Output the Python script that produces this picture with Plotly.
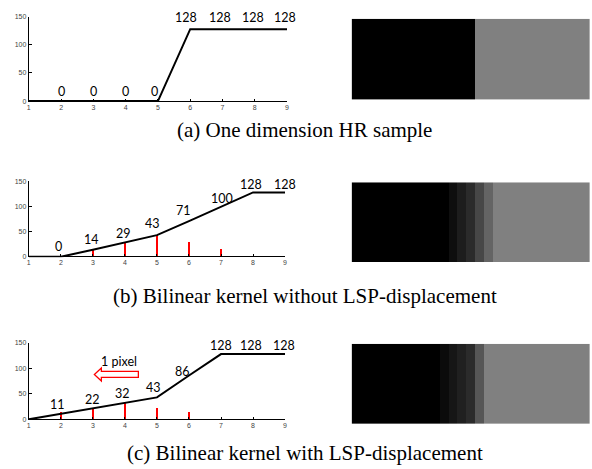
import plotly.graph_objects as go

W, H = 592, 469

# ---- data ----
x_pos = [1, 2, 3, 4, 5, 6, 7, 8, 9]

a_vals = [0, 0, 0, 0, 0, 128, 128, 128, 128]
a_text = ["", "0", "0", "0", "0", "128", "128", "128", "128"]

b_vals = [0, 0, 14, 29, 43, 71, 100, 128, 128]
b_text = ["", "0", "14", "29", "43", "71", "100", "128", "128"]
b_stem_x = [3, 4, 5, 6, 7]
b_stem_h = [14, 28, 43, 28, 14]

c_vals = [0, 11, 22, 32, 43, 86, 128, 128, 128]
c_text = ["", "11", "22", "32", "43", "86", "128", "128", "128"]
c_stem_x = [2, 3, 4, 5, 6]
c_stem_h = [14, 23, 32, 23, 14]

img_a = [0] * 14 + [128] * 13
img_b = [0] * 11 + [14, 29, 43, 71, 100] + [128] * 11
img_c = [0] * 10 + [11, 22, 32, 43, 86] + [128] * 12

captions = ["(a) One dimension HR sample",
            "(b) Bilinear kernel without LSP-displacement",
            "(c) Bilinear kernel with LSP-displacement"]

y_ticks = [0, 50, 100, 150]

# ---- label offsets (pixel shifts, style only) ----
a_shift = [(0, 0), (0, 10), (0, 10), (0, 10), (-3, 10), (-4, 12), (-2, 12), (-2, 12), (-2, 12)]
b_shift = [(0, 0), (-2, 10), (-1, 10), (-1, 9), (-4, 12), (-5, 11), (1, 8), (-2, 8), (0, 8)]
c_shift = [(0, 0), (-3, 9), (0, 9), (-2, 9), (-3, 10), (-6, 4), (0, 9), (-2, 9), (-1, 9)]

# ---- layout helpers (pixel boxes -> paper) ----
def px(v):
    return v / W

def py(v):
    return 1 - v / H

plot_boxes = [  # (left, right, top, bottom) in px
    (27, 287, 13, 99),
    (27, 285, 180, 257),
    (27, 285, 344, 422),
]
img_boxes = [
    (352, 592, 15, 97),
    (352, 592, 181, 262),
    (352, 592, 345, 426),
]
caption_y = [128, 296, 456]

LABEL_FONT = dict(family="Lato, Noto Sans, sans-serif", size=12.5, color="black")
TICK_FONT = dict(family="Liberation Sans, Arial, sans-serif", size=7, color="#444")

fig = go.Figure()

series = [(a_vals, a_text, None, None, a_shift),
          (b_vals, b_text, b_stem_x, b_stem_h, b_shift),
          (c_vals, c_text, c_stem_x, c_stem_h, c_shift)]

for i, (vals, txt, sx, sh, shifts) in enumerate(series):
    n = i + 1
    xa = "x" if n == 1 else f"x{n}"
    ya = "y" if n == 1 else f"y{n}"
    if sx is not None:
        fig.add_trace(go.Bar(x=sx, y=sh, width=0.06, marker=dict(color="red", line=dict(width=0)),
                             xaxis=xa, yaxis=ya, showlegend=False, hoverinfo="skip"))
    fig.add_trace(go.Scatter(x=x_pos, y=vals, mode="lines",
                             line=dict(color="black", width=2), cliponaxis=False,
                             xaxis=xa, yaxis=ya, showlegend=False, hoverinfo="skip"))
    for xv, yv, t, (dx, dy) in zip(x_pos, vals, txt, shifts):
        if t:
            fig.add_annotation(x=xv, y=yv, text=t, xref=xa, yref=ya, showarrow=False,
                               xanchor="center", yanchor="middle", xshift=dx, yshift=dy,
                               font=LABEL_FONT)
    l, r, t, b = plot_boxes[i]
    tick_common = dict(ticks="inside", ticklen=3, tickcolor="black", tickwidth=1,
                       tickfont=TICK_FONT, showgrid=False, fixedrange=True)
    fig.update_layout(**{
        ("xaxis" if n == 1 else f"xaxis{n}"): dict(domain=[px(l), px(r)], range=[1, 9],
                                                     tickvals=x_pos, anchor=ya, showline=False,
                                                     zeroline=False, **tick_common),
        ("yaxis" if n == 1 else f"yaxis{n}"): dict(domain=[py(b), py(t)], range=[-0.8, 150],
                                                     tickvals=y_ticks, anchor=xa, showline=True,
                                                     linecolor="black", linewidth=1,
                                                     zeroline=True, zerolinecolor="black",
                                                     zerolinewidth=1, **tick_common),
    })

# images
for j, img in enumerate([img_a, img_b, img_c]):
    n = j + 4
    xa, ya = f"x{n}", f"y{n}"
    fig.add_trace(go.Heatmap(z=[img], colorscale=[[0, "black"], [1, "white"]], zmin=0, zmax=255,
                             showscale=False, xaxis=xa, yaxis=ya, hoverinfo="skip"))
    l, r, t, b = img_boxes[j]
    fig.update_layout(**{
        f"xaxis{n}": dict(domain=[px(l), px(r)], range=[-0.5, 26.5], visible=False, anchor=ya,
                          fixedrange=True),
        f"yaxis{n}": dict(domain=[py(b), py(t)], range=[-0.5, 0.5], visible=False, anchor=xa,
                          fixedrange=True),
    })

# captions
for k, cap in enumerate(captions):
    fig.add_annotation(text=cap, x=px(305), y=py(caption_y[k]), xref="paper", yref="paper",
                       showarrow=False, xanchor="center", yanchor="middle",
                       font=dict(family="Liberation Serif, Times New Roman, serif", size=21, color="black"))

# hollow arrow "1 pixel" in (c)
arrow_tail_x, arrow_y = 4.42, 88
fig.add_shape(type="path", xref="x3", yref="y3", xsizemode="pixel", ysizemode="pixel",
              xanchor=arrow_tail_x, yanchor=arrow_y,
              path="M 0,-3 L -37,-3 L -37,-6.5 L -44,0 L -37,6.5 L -37,3 L 0,3 Z",
              line=dict(color="red", width=1.3), fillcolor="white")
fig.add_annotation(text="1 pixel", x=3.8, y=113, xref="x3", yref="y3", showarrow=False,
                   font=LABEL_FONT, xanchor="center", yanchor="middle")

fig.update_layout(width=W, height=H, margin=dict(l=0, r=0, t=0, b=0),
                  paper_bgcolor="white", plot_bgcolor="white", bargap=0)

fig.write_html("out.html", config={"displayModeBar": False},
               post_script="document.body.style.margin='0';document.body.style.overflow='hidden';")
